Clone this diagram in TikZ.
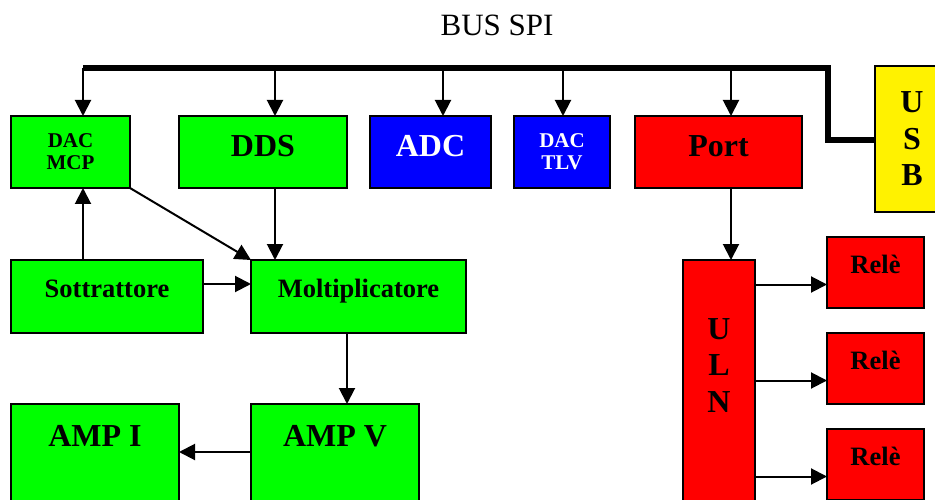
\documentclass[tikz,border=0pt]{standalone}
\usepackage{fontspec}
\setmainfont{Liberation Serif}
\usetikzlibrary{arrows.meta}

\begin{document}
\begin{tikzpicture}[x=1pt,y=-1pt,
  blocco/.style={draw,line width=1.5pt,inner sep=0pt,outer sep=0pt,anchor=north west,align=center},
  grande/.style={font=\fontsize{32}{36.5}\selectfont\bfseries},
  medio/.style={font=\fontsize{26.5}{30}\selectfont\bfseries},
  piccolo/.style={font=\fontsize{21}{22}\selectfont\bfseries},
  verde/.style={blocco,fill=green},
  rosso/.style={blocco,fill=red},
  blu/.style={blocco,fill=blue,text=white},
  freccia/.style={line width=2pt,-{Triangle[length=16pt,width=16pt]}}]
  \useasboundingbox (0,0) rectangle (935,500);

  % Titolo
  \node[font=\fontsize{31}{34}\selectfont,anchor=base] (titolo) at (497,36) {BUS SPI};

  % Blocchi sul bus
  \node[verde,piccolo,minimum width=119pt,minimum height=72pt] (dacmcp) at (11,116) {DAC\\MCP};
  \node[verde,grande,minimum width=168pt,minimum height=72pt,text height=20pt,text depth=10pt] (dds) at (179,116) {DDS};
  \node[blu,grande,minimum width=121pt,minimum height=72pt,text height=20pt,text depth=10pt] (adc) at (370,116) {ADC};
  \node[blu,piccolo,minimum width=96pt,minimum height=72pt] (dactlv) at (514,116) {DAC\\TLV};
  \node[rosso,grande,minimum width=167pt,minimum height=72pt,text height=20pt,text depth=10pt] (port) at (635,116) {Port};
  \node[blocco,fill=yellow,grande,minimum width=74pt,minimum height=146pt] (usb) at (875,66) {U\\S\\B};

  % Catena di misura
  \node[verde,medio,minimum width=192pt,minimum height=73pt,text height=20pt,text depth=19pt] (sott) at (11,260) {Sottrattore};
  \node[verde,medio,minimum width=215pt,minimum height=73pt,text height=20pt,text depth=19pt] (molt) at (251,260) {Moltiplicatore};
  \node[verde,grande,minimum width=168pt,minimum height=100pt,text height=20pt,text depth=36pt] (ampi) at (11,404) {AMP I};
  \node[verde,grande,minimum width=168pt,minimum height=100pt,text height=20pt,text depth=36pt] (ampv) at (251,404) {AMP V};

  % Uscite
  \node[rosso,grande,minimum width=72pt,minimum height=250pt,text height=80pt,text depth=26pt] (uln) at (683,260) {U\\L\\N};
  \foreach \i/\y in {1/237,2/333,3/429}
    \node[rosso,medio,minimum width=97pt,minimum height=71pt,text height=20pt,text depth=19pt] (rele\i) at (827,\y) {Relè};

  % Bus SPI
  \foreach \x/\n in {83/dacmcp,275/dds,443/adc,563/dactlv,731/port}
    \coordinate (bus-\n) at (\x,68);
  \coordinate (gomito1) at (828,68);
  \coordinate (gomito2) at (828,140);
  \draw[line width=5.5pt] (bus-dacmcp) -- (gomito1) -- (gomito2) -- (gomito2 -| usb.west);
  \foreach \n in {dacmcp,dds,adc,dactlv,port}
    \draw[freccia] (bus-\n) -- (bus-\n |- \n.north);

  % Collegamenti
  \draw[freccia] (bus-dacmcp |- sott.north) -- (bus-dacmcp |- dacmcp.south);
  \draw[freccia] (dacmcp.south east) -- (molt.north west);
  \draw[freccia] (bus-dds |- dds.south) -- (bus-dds |- molt.north);
  \draw[freccia] ([yshift=-24pt]sott.north east) -- ([yshift=-24pt]sott.north east -| molt.west);
  \draw[freccia] ([xshift=96pt]molt.south west) -- ([xshift=96pt]molt.south west |- ampv.north);
  \draw[freccia] ([yshift=-48pt]ampv.north west) -- ([yshift=-48pt]ampv.north west -| ampi.east);
  \draw[freccia] (bus-port |- port.south) -- (bus-port |- uln.north);
  \foreach \i in {1,2,3}
    \draw[freccia] ([yshift=-12pt]rele\i.west -| uln.east) -- ([yshift=-12pt]rele\i.west);
\end{tikzpicture}
\end{document}
